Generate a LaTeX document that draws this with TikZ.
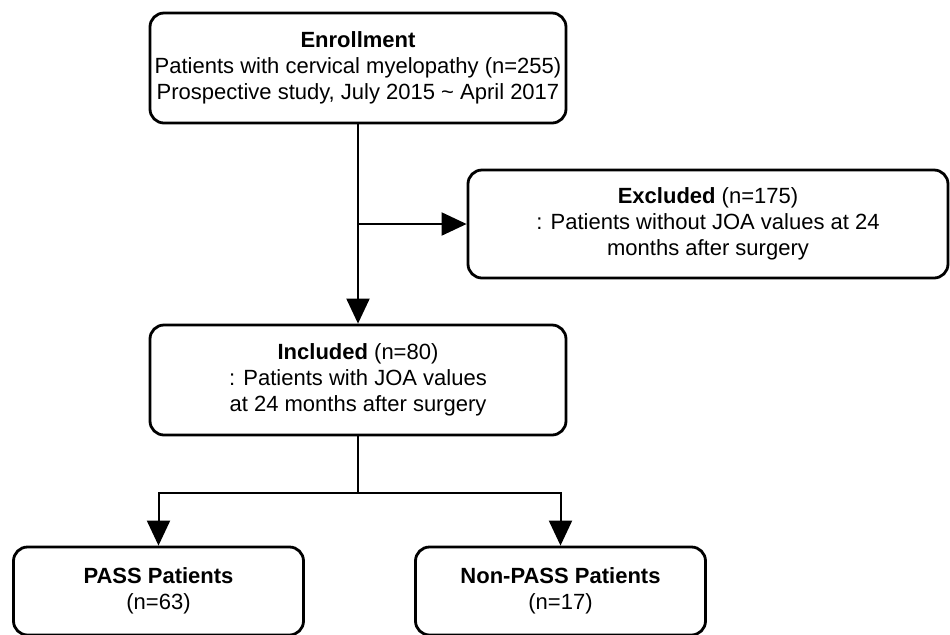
\documentclass[tikz,border=0pt]{standalone}
\usepackage{fontspec}
\setmainfont{Liberation Sans}
\usetikzlibrary{arrows.meta}
\tikzset{
  box/.style={draw,line width=1.4pt,rounded corners=7pt,align=center,
    inner sep=2pt,font=\fontsize{11}{13}\selectfont},
  arr/.style={line width=1pt,-{Triangle[length=12.5pt,width=11.5pt]}}
}
\begin{document}
\begin{tikzpicture}[x=0.5pt,y=-0.5pt]
\useasboundingbox (0,0) rectangle (950,634);
\node[box,minimum width=208pt,minimum height=55pt] (enroll) at (358,68)
  {\textbf{Enrollment}\\Patients with cervical myelopathy (n=255)\\
   Prospective study, July 2015 \textasciitilde{} April 2017};
\node[box,minimum width=240pt,minimum height=54pt] (excl) at (708,224)
  {\textbf{Excluded} (n=175)\\: Patients without JOA values at 24\\
   months after surgery};
\node[box,minimum width=208pt,minimum height=55pt] (incl) at (358,380)
  {\textbf{Included} (n=80)\\: Patients with JOA values\\
   at 24 months after surgery};
\node[box,minimum width=145pt,minimum height=44pt] (pass) at (158.5,591)
  {\textbf{PASS Patients}\\(n=63)};
\node[box,minimum width=145pt,minimum height=44pt] (npass) at (560.5,591)
  {\textbf{Non-PASS Patients}\\(n=17)};
\draw[arr] (enroll.south) -- (incl.north);
\coordinate (split) at (enroll.south |- excl.west);
\draw[arr] (split) -- (excl.west);
\draw[line width=1pt] (incl.south) -- ++(0,57) coordinate (fork);
\draw[arr] (fork) -| (pass.north);
\draw[arr] (fork) -| (npass.north);
\end{tikzpicture}
\end{document}
